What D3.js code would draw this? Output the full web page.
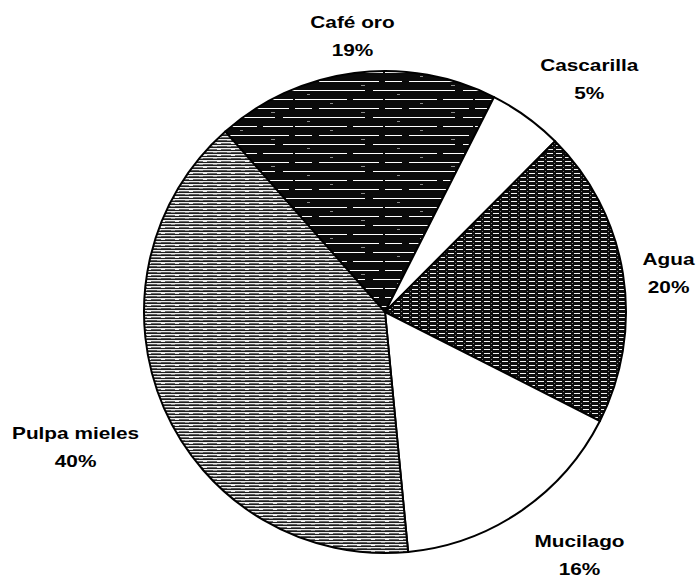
<!DOCTYPE html>
<html>
<head>
<meta charset="utf-8">
<script src="https://cdn.jsdelivr.net/npm/d3@7"></script>
<style>
    body { margin: 0; background: #fff; }
    .slice-label { font-family: "Liberation Sans", Arial, sans-serif; font-weight: bold; font-size: 16px; fill: #000; }
</style>
</head>
<body>
<svg id="chart" width="696" height="579"></svg>
<script>

const categories = ['Café oro', 'Cascarilla', 'Agua', 'Mucilago', 'Pulpa mieles'];
const values = [19, 5, 20, 16, 40];
const percentLabels = ['19%', '5%', '20%', '16%', '40%'];

// fill per slice (scanned print look)
const fills = ['url(#hatchCafe)', '#fff', 'url(#hatchAgua)', '#fff', 'url(#hatchPulpa)'];
// label distance from centre (in radii) and a small nudge in px
const labelRadius = [1.16, 1.29, 1.2, 1.27, 1.4];
const labelNudge = [[3, 1], [22, 19], [-2, 7], [22, -10], [0, 0]];

const width = 696;
const height = 579;
const cx = 385;
const cy = 312;
const radius = 241;
const startDeg = -41.5;
const textStretch = 1.3;

const data = categories.map((c, i) => ({
    key: c, value: values[i], pct: percentLabels[i],
    fill: fills[i], lr: labelRadius[i], nudge: labelNudge[i]
}));

const svg = d3.select('#chart');
const defs = svg.append('defs');

const addPattern = (id, w, h, build) => {
    const p = defs.append('pattern')
        .attr('id', id)
        .attr('patternUnits', 'userSpaceOnUse')
        .attr('width', w)
        .attr('height', h);
    build(p);
};

const row = (p, x, y, w, h, color) => p.append('rect')
    .attr('x', x).attr('y', y).attr('width', w).attr('height', h).attr('fill', color);

// near black with long broken white streaks, breaks staggered per row
addPattern('hatchCafe', 90, 27, p => {
    row(p, 0, 0, 90, 27, '#0a0a0a');
    row(p, 0, 3, 52, 1, '#fff');
    row(p, 58, 3, 30, 1, '#fff');
    row(p, 0, 12, 17, 1, '#fff');
    row(p, 24, 12, 60, 1, '#fff');
    row(p, 0, 21, 70, 1, '#fff');
    row(p, 78, 21, 12, 1, '#fff');
    row(p, 35, 7, 3, 1, '#8a8a8a');
    row(p, 66, 16, 4, 1, '#8a8a8a');
    row(p, 12, 25, 3, 1, '#8a8a8a');
});

// dark with fine dashed white rows
addPattern('hatchAgua', 9, 4, p => {
    row(p, 0, 0, 9, 4, '#0c0c0c');
    row(p, 0, 1, 6, 1, '#f2f2f2');
    row(p, 7, 3, 1, 1, '#777');
});

// medium grey striping
addPattern('hatchPulpa', 14, 6, p => {
    row(p, 0, 0, 14, 6, '#ececec');
    row(p, 0, 0, 14, 1, '#1c1c1c');
    row(p, 0, 2, 10, 1, '#555');
    row(p, 10, 2, 4, 1, '#999');
    row(p, 0, 3, 14, 1, '#1c1c1c');
    row(p, 4, 5, 10, 1, '#6a6a6a');
});

const pie = d3.pie()
    .sort(null)
    .value(d => d.value)
    .startAngle(startDeg * Math.PI / 180)
    .endAngle(startDeg * Math.PI / 180 + 2 * Math.PI);

const arc = d3.arc().innerRadius(0).outerRadius(radius);

const g = svg.append('g')
    .attr('transform', `translate(${cx},${cy})`);

g.selectAll('.slice')
    .data(pie(data))
    .enter().append('path')
    .attr('class', 'slice')
    .attr('d', arc)
    .attr('fill', d => d.data.fill)
    .attr('stroke', '#000')
    .attr('stroke-width', 2)
    .attr('stroke-linejoin', 'round');

const labels = g.selectAll('.slice-label')
    .data(pie(data))
    .enter().append('g')
    .attr('class', 'slice-label')
    .attr('transform', d => {
        const a = (d.startAngle + d.endAngle) / 2;
        const r = radius * d.data.lr;
        const x = Math.sin(a) * r + d.data.nudge[0];
        const y = -Math.cos(a) * r + d.data.nudge[1];
        return `translate(${x},${y}) scale(${textStretch},1)`;
    });

labels.append('text')
    .attr('text-anchor', 'middle')
    .attr('y', -8)
    .text(d => d.data.key);

labels.append('text')
    .attr('text-anchor', 'middle')
    .attr('y', 20)
    .text(d => d.data.pct);

</script>
</body>
</html>
